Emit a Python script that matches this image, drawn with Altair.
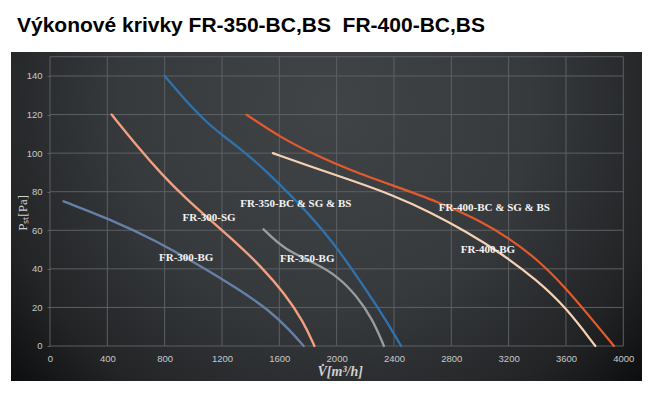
import altair as alt
import pandas as pd

TITLE = "Výkonové krivky FR-350-BC,BS \u00a0FR-400-BC,BS"

# Curve data: flow V [m3/h] and static pressure Pst [Pa]
FR300BG_X = [95, 410, 730, 1050, 1315, 1530, 1670, 1770]
FR300BG_Y = [75, 66, 55, 41.5, 29.5, 18.5, 8.5, 0]

FR300SG_X = [430, 620, 780, 940, 1130, 1315, 1475, 1635, 1770, 1845]
FR300SG_Y = [120, 102.5, 89, 77, 64.5, 52.5, 41, 27.5, 12.5, 0]

FR350BC_X = [800, 900, 1000, 1100, 1200, 1300, 1400, 1500, 1600, 1700, 1800,
             1900, 2000, 2100, 2220, 2340, 2450]
FR350BC_Y = [140, 131.3, 123, 115.5, 109.5, 103.8, 97.8, 91.2, 84, 76.5, 68.8,
             60.2, 51, 40.5, 27.5, 13.8, 0]

FR350BG_X = [1490, 1635, 1850, 2010, 2140, 2250, 2330]
FR350BG_Y = [60.5, 50, 43, 36, 26, 14, 0]

FR400BC_X = [1370, 1600, 1850, 2100, 2400, 2700, 3000, 3200, 3400, 3600, 3780, 3935]
FR400BC_Y = [120, 108.5, 99, 91, 83, 75, 65, 56, 45, 30, 14, 0]

FR400BG_X = [1555, 1800, 2100, 2400, 2650, 2900, 3150, 3400, 3600, 3805]
FR400BG_Y = [100, 93.5, 86, 78, 69.5, 59.5, 48, 34, 20, 0]

SERIES = ["FR-300-BG", "FR-300-SG", "FR-350-BC & SG & BS", "FR-350-BG",
          "FR-400-BC & SG & BS", "FR-400-BG"]
SERIES_X = [FR300BG_X, FR300SG_X, FR350BC_X, FR350BG_X, FR400BC_X, FR400BG_X]
SERIES_Y = [FR300BG_Y, FR300SG_Y, FR350BC_Y, FR350BG_Y, FR400BC_Y, FR400BG_Y]

# annotation anchors (data coordinates)
LABEL_X = [950, 1110, 1715, 1795, 3100, 3055]
LABEL_Y = [45.6, 66.6, 73.6, 44.9, 71.3, 49.6]

X_TICKS = [0, 400, 800, 1200, 1600, 2000, 2400, 2800, 3200, 3600, 4000]
Y_TICKS = [0, 20, 40, 60, 80, 100, 120, 140]
X_MAX = 4000
Y_MAX = 150

# styling
COLORS = ["#6581a8", "#f2a07e", "#2f72ad", "#9b9c9d", "#e35a2c", "#f7d1b3"]
WIDTHS = [2.4, 2.2, 3.0, 2.2, 3.0, 2.2]
GRID = "#5d6063"
X_DOMAIN = [-272.1, 4130.5]
Y_DOMAIN = [-18.15, 152.44]
W, H = 631, 329

rows = []
for name, xs, ys in zip(SERIES, SERIES_X, SERIES_Y):
    for x, y in zip(xs, ys):
        rows.append({"series": name, "V": x, "P": y})
curves = pd.DataFrame(rows)

labels = pd.DataFrame({"text": SERIES, "V": LABEL_X, "P": LABEL_Y})
vgrid = pd.DataFrame({"V": X_TICKS, "P0": 0, "P1": Y_MAX})
hgrid = pd.DataFrame({"P": Y_TICKS + [Y_MAX], "V0": 0, "V1": X_MAX})

xs = alt.Scale(domain=X_DOMAIN, nice=False, zero=False)
ys = alt.Scale(domain=Y_DOMAIN, nice=False, zero=False)

bg = alt.Chart(pd.DataFrame({"a": [0]})).mark_rect(
    color=alt.RadialGradient(
        gradient="radial", x1=0.5, y1=0.32, r1=0, x2=0.5, y2=0.32, r2=0.72,
        stops=[alt.GradientStop(offset=0, color="#414447"),
               alt.GradientStop(offset=0.45, color="#373a3d"),
               alt.GradientStop(offset=0.75, color="#222426"),
               alt.GradientStop(offset=1, color="#040404")]),
).encode(x=alt.value(0), x2=alt.value("width"), y=alt.value(0), y2=alt.value("height"))

vg = alt.Chart(vgrid).mark_rule(color=GRID, strokeWidth=1).encode(
    x=alt.X("V:Q", scale=xs,
            axis=alt.Axis(values=X_TICKS, title=None, grid=False, domain=False,
                          ticks=False, tickSize=0, offset=-35, labelPadding=7,
                          labelColor="#c8c8c8", labelFont="Liberation Sans",
                          labelFontSize=9.5, format="d", zindex=2)),
    y=alt.Y("P0:Q", scale=ys,
            axis=alt.Axis(values=Y_TICKS, title=None, grid=False, domain=False,
                          ticks=True, tickSize=3, tickColor=GRID, offset=-39,
                          labelPadding=5, labelColor="#c8c8c8",
                          labelFont="Liberation Sans", labelFontSize=9.5, zindex=2)),
    y2="P1:Q",
)
hg = alt.Chart(hgrid).mark_rule(color=GRID, strokeWidth=1).encode(
    x=alt.X("V0:Q", scale=xs), x2="V1:Q", y=alt.Y("P:Q", scale=ys))

lines = alt.Chart(curves).mark_line(interpolate="basis", strokeCap="round").encode(
    x=alt.X("V:Q", scale=xs),
    y=alt.Y("P:Q", scale=ys),
    color=alt.Color("series:N", scale=alt.Scale(domain=SERIES, range=COLORS), legend=None),
    strokeWidth=alt.StrokeWidth("series:N", scale=alt.Scale(domain=SERIES, range=WIDTHS), legend=None),
)

txt = alt.Chart(labels).mark_text(
    font="Liberation Serif", fontWeight="bold", fontSize=11, color="#f4f4f4"
).encode(x=alt.X("V:Q", scale=xs), y=alt.Y("P:Q", scale=ys), text="text:N")

ytitle = alt.Chart(pd.DataFrame({"t": ["Pₛₜ[Pa]"], "V": [-190], "P": [69]})).mark_text(
    font="Liberation Serif", fontSize=13, color="#d0d0d0", angle=270
).encode(x=alt.X("V:Q", scale=xs), y=alt.Y("P:Q", scale=ys), text="t:N")

xtitle = alt.Chart(pd.DataFrame({"t": ["V̇[m³/h]"], "V": [2025], "P": [-13.5]})).mark_text(
    font="Liberation Serif", fontSize=14, fontStyle="italic", fontWeight="bold", color="#d0d0d0"
).encode(x=alt.X("V:Q", scale=xs), y=alt.Y("P:Q", scale=ys), text="t:N")

chart = alt.layer(bg, vg, hg, lines, txt, ytitle, xtitle).properties(
    width=W, height=H,
    title=alt.TitleParams(TITLE, anchor="start", fontSize=21, font="Liberation Sans",
                          fontWeight="bold", color="#000000", dx=6, offset=16),
    autosize=alt.AutoSizeParams(type="none"),
    padding={"left": 3, "top": 44, "right": 0, "bottom": 0},
).configure_view(stroke=None).configure(background="white")

chart.save("out.html", embed_options={"renderer": "svg", "actions": False})
